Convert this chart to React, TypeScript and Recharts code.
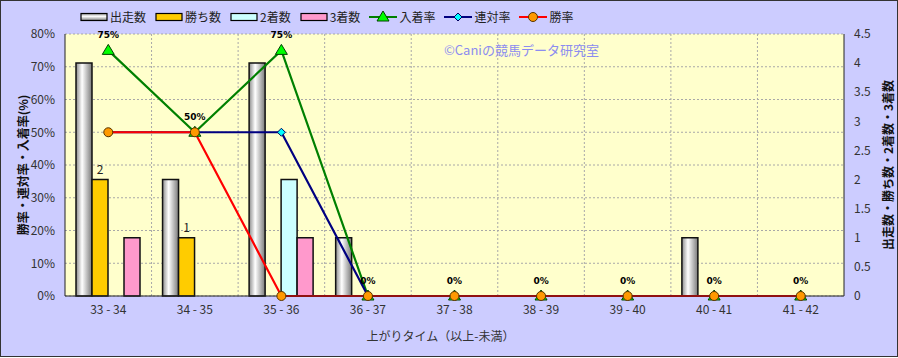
import {
  ComposedChart,
  Bar,
  Line,
  XAxis,
  YAxis,
  CartesianGrid,
  LabelList,
} from 'recharts';

const categories = ['33 - 34', '34 - 35', '35 - 36', '36 - 37', '37 - 38', '38 - 39', '39 - 40', '40 - 41', '41 - 42'];
const starts = [4, 2, 4, 1, 0, 0, 0, 1, 0];
const wins = [2, 1, 0, 0, 0, 0, 0, 0, 0];
const seconds = [0, 0, 2, 0, 0, 0, 0, 0, 0];
const thirds = [1, 0, 1, 0, 0, 0, 0, 0, 0];
const placeRate = [75, 50, 75, 0, 0, 0, 0, 0, 0];
const rentaiRate = [50, 50, 50, 0, 0, 0, 0, 0, 0];
const winRate = [50, 50, 0, 0, 0, 0, 0, 0, 0];

const leftTicks = [0, 10, 20, 30, 40, 50, 60, 70, 80];
const rightTicks = [0, 0.5, 1, 1.5, 2, 2.5, 3, 3.5, 4, 4.5];

const data = categories.map((name, i) => ({
  name,
  出走数: starts[i],
  勝ち数: wins[i],
  '2着数': seconds[i],
  '3着数': thirds[i],
  入着率: placeRate[i],
  連対率: rentaiRate[i],
  勝率: winRate[i],
}));

const FONT = '"Noto Sans CJK JP", "Noto Sans", sans-serif';

const TriangleDot = ({ cx, cy }: any) =>
  cx == null ? null : (
    <path
      d={`M${cx},${cy - 6} L${cx + 6},${cy + 4} L${cx - 6},${cy + 4} Z`}
      fill="#00FF00"
      stroke="#004000"
      strokeWidth={1}
    />
  );

const DiamondDot = ({ cx, cy }: any) =>
  cx == null ? null : (
    <path
      d={`M${cx},${cy - 4} L${cx + 4},${cy} L${cx},${cy + 4} L${cx - 4},${cy} Z`}
      fill="#00FFFF"
      stroke="#000060"
      strokeWidth={1}
    />
  );

const CircleDot = ({ cx, cy }: any) =>
  cx == null ? null : <circle cx={cx} cy={cy} r={4.5} fill="#FF9900" stroke="#553300" strokeWidth={1} />;

const legendItems = [
  { name: '出走数', type: 'bar', fill: 'url(#gStartLeg)' },
  { name: '勝ち数', type: 'bar', fill: '#FFCC00' },
  { name: '2着数', type: 'bar', fill: '#CCFFFF' },
  { name: '3着数', type: 'bar', fill: '#FF99CC' },
  { name: '入着率', type: 'line', color: '#008000', dot: 'tri' },
  { name: '連対率', type: 'line', color: '#000080', dot: 'dia' },
  { name: '勝率', type: 'line', color: '#FF0000', dot: 'circ' },
];

const Legend = () => (
  <div
    style={{
      position: 'absolute',
      left: 80,
      top: 8,
      display: 'flex',
      alignItems: 'center',
      gap: 9,
      fontFamily: FONT,
      fontSize: 12,
      color: '#222',
    }}
  >
    <svg width={0} height={0} style={{ position: 'absolute' }}>
      <defs>
        <linearGradient id="gStartLeg" x1="0" y1="0" x2="0" y2="1">
          <stop offset="0%" stopColor="#909090" />
          <stop offset="40%" stopColor="#FFFFFF" />
          <stop offset="100%" stopColor="#808080" />
        </linearGradient>
      </defs>
    </svg>
    {legendItems.map((item) => (
      <div key={item.name} style={{ display: 'flex', alignItems: 'center', gap: 2 }}>
        <svg width={28} height={14}>
          {item.type === 'bar' ? (
            <rect x={1} y={3.5} width={26} height={7} fill={item.fill} stroke="#000" strokeWidth={1.2} />
          ) : (
            <>
              <line x1={0} y1={7} x2={28} y2={7} stroke={item.color} strokeWidth={2} />
              {item.dot === 'tri' && <TriangleDot cx={14} cy={7} />}
              {item.dot === 'dia' && <DiamondDot cx={14} cy={7} />}
              {item.dot === 'circ' && <CircleDot cx={14} cy={7} />}
            </>
          )}
        </svg>
        <span>{item.name}</span>
      </div>
    ))}
  </div>
);

const VerticalTitle = ({ x, y, text }: { x: number; y: number; text: string }) => (
  <text
    x={x}
    y={y}
    transform={`rotate(-90, ${x}, ${y})`}
    textAnchor="middle"
    dominantBaseline="central"
    fontFamily={FONT}
    fontSize={12}
    fontWeight="bold"
    fill="#111"
  >
    {text}
  </text>
);

const winLabel = (v: any) => (v ? String(v) : '');

export default function App() {
  return (
    <div
      style={{
        position: 'absolute',
        left: 0,
        top: 0,
        width: 898,
        height: 358,
        background: '#fff',
      }}
    >
      <div
        style={{
          position: 'absolute',
          left: 0,
          top: 0,
          width: 898,
          height: 357,
          boxSizing: 'border-box',
          border: '1px solid #333',
          background: '#CCCCFF',
        }}
      />
      <div style={{ position: 'absolute', left: 0, top: 0 }}>
        <ComposedChart
          width={898}
          height={358}
          data={data}
          margin={{ top: 34, right: 0, bottom: 0, left: 0 }}
          barCategoryGap={11}
          barGap={0}
        >
          <defs>
            <linearGradient id="gStart" x1="0" y1="0" x2="1" y2="0">
              <stop offset="0%" stopColor="#8C8C8C" />
              <stop offset="38%" stopColor="#FFFFFF" />
              <stop offset="100%" stopColor="#7A7A7A" />
            </linearGradient>
          </defs>
          <CartesianGrid
            yAxisId="left"
            fill="#FFFFCC"
            stroke="#A8A8A8"
            strokeDasharray="2 2"
            verticalCoordinatesGenerator={({ offset }: any) =>
              categories.slice(1).map((_, i) => offset.left + ((i + 1) * offset.width) / categories.length)
            }
          />
          <XAxis
            dataKey="name"
            height={62}
            tickLine={false}
            tickSize={4}
            tickMargin={5}
            axisLine={{ stroke: '#222' }}
            tick={{ fontFamily: FONT, fontSize: 12, fill: '#333' }}
            interval={0}
            label={{
              value: '上がりタイム（以上-未満）',
              position: 'insideBottom',
              offset: 17,
              dx: -14,
              style: { fontFamily: FONT, fontSize: 12, fill: '#333' },
            }}
          />
          <YAxis
            yAxisId="left"
            width={65}
            domain={[0, 80]}
            ticks={leftTicks}
            tickFormatter={(v) => `${v}%`}
            tickLine={false}
            tickSize={6}
            tickMargin={4}
            axisLine={{ stroke: '#222' }}
            tick={{ fontFamily: FONT, fontSize: 12, fill: '#333' }}
            label={{
              content: ({ viewBox }: any) => (
                <VerticalTitle x={22} y={viewBox.y + viewBox.height / 2} text="勝率・連対率・入着率(%)" />
              ),
            }}
          />
          <YAxis
            yAxisId="right"
            orientation="right"
            width={54}
            domain={[0, 4.5]}
            ticks={rightTicks}
            tickLine={false}
            tickSize={6}
            tickMargin={4}
            axisLine={{ stroke: '#222' }}
            tick={{ fontFamily: FONT, fontSize: 12, fill: '#333' }}
            label={{
              content: ({ viewBox }: any) => (
                <VerticalTitle x={887} y={viewBox.y + viewBox.height / 2} text="出走数・勝ち数・2着数・3着数" />
              ),
            }}
          />
          <Bar yAxisId="right" dataKey="出走数" fill="url(#gStart)" stroke="#111" strokeWidth={1.5} isAnimationActive={false} />
          <Bar yAxisId="right" dataKey="勝ち数" fill="#FFCC00" stroke="#111" strokeWidth={1.5} isAnimationActive={false}>
            <LabelList
              dataKey="勝ち数"
              position="top"
              offset={6}
              formatter={winLabel}
              fill="#222"
              stroke="none"
              style={{ fontFamily: FONT, fontSize: 12, fill: '#222', stroke: 'none' }}
            />
          </Bar>
          <Bar yAxisId="right" dataKey="2着数" fill="#CCFFFF" stroke="#111" strokeWidth={1.5} isAnimationActive={false} />
          <Bar yAxisId="right" dataKey="3着数" fill="#FF99CC" stroke="#111" strokeWidth={1.5} isAnimationActive={false} />
          <Line
            yAxisId="left"
            dataKey="入着率"
            stroke="#008000"
            strokeWidth={2.2}
            dot={<TriangleDot />}
            activeDot={false}
            isAnimationActive={false}
          >
            <LabelList
              dataKey="入着率"
              position="top"
              offset={12}
              formatter={(v: any) => `${v}%`}
              fill="#000"
              stroke="none"
              style={{ fontFamily: '"DejaVu Sans", sans-serif', fontSize: 9, fontWeight: 'bold', fill: '#000', stroke: 'none' }}
            />
          </Line>
          <Line
            yAxisId="left"
            dataKey="連対率"
            stroke="#000080"
            strokeWidth={2.2}
            dot={<DiamondDot />}
            activeDot={false}
            isAnimationActive={false}
          />
          <Line
            yAxisId="left"
            dataKey="勝率"
            stroke="#FF0000"
            strokeWidth={2.2}
            dot={<CircleDot />}
            activeDot={false}
            isAnimationActive={false}
          />
        </ComposedChart>
      </div>
      <div
        style={{
          position: 'absolute',
          left: 444,
          top: 40,
          fontFamily: FONT,
          fontSize: 13,
          color: '#8C8CF0',
          whiteSpace: 'nowrap',
        }}
      >
        ©Caniの競馬データ研究室
      </div>
      <Legend />
    </div>
  );
}
